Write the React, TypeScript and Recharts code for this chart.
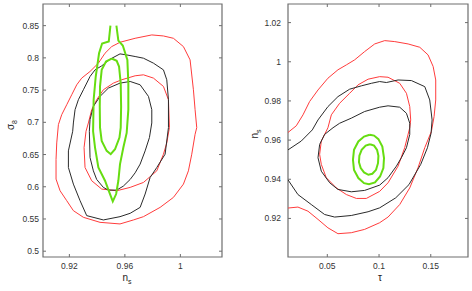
import { LineChart, Line, XAxis, YAxis, ReferenceArea } from "recharts";

type Pt = [number, number];

// ---- left panel: n_s vs sigma_8 ----
const sigmaXTicks = [0.92, 0.96, 1];
const sigmaYTicks = [0.5, 0.55, 0.6, 0.65, 0.7, 0.75, 0.8, 0.85];

const sigmaRedOuter: Pt[] = [
  [0.9109, 0.668], [0.9121, 0.6964], [0.9145, 0.7119], [0.9181, 0.7273], [0.9217, 0.7428],
  [0.9253, 0.7582], [0.9289, 0.7686], [0.9349, 0.7789], [0.9409, 0.7918], [0.9457, 0.8072],
  [0.9505, 0.8175], [0.9565, 0.8242], [0.9674, 0.8304], [0.9794, 0.8356], [0.9878, 0.834],
  [0.995, 0.8304], [1.0022, 0.8175], [1.007, 0.7969], [1.0094, 0.7505], [1.0106, 0.7196],
  [1.0118, 0.6918], [1.0106, 0.6814], [1.0082, 0.6505], [1.0058, 0.6247], [1.0022, 0.6041],
  [0.995, 0.5835], [0.9854, 0.568], [0.9734, 0.5536], [0.9662, 0.5485], [0.9565, 0.5423],
  [0.9421, 0.5448], [0.9301, 0.5526], [0.9229, 0.5629], [0.9181, 0.5784], [0.9133, 0.5938],
  [0.9104, 0.6119], [0.9104, 0.6423],
];
const sigmaRedInner: Pt[] = [
  [0.9306, 0.6608], [0.932, 0.6861], [0.9337, 0.699], [0.9361, 0.7196], [0.9397, 0.7351],
  [0.9445, 0.7505], [0.9517, 0.7608], [0.9577, 0.766], [0.9674, 0.7722], [0.9734, 0.7737],
  [0.9806, 0.7686], [0.9878, 0.7557], [0.9914, 0.7351], [0.9921, 0.6918], [0.9902, 0.668],
  [0.9878, 0.6505], [0.983, 0.6247], [0.9734, 0.6067], [0.9638, 0.599], [0.9541, 0.5938],
  [0.9433, 0.5964], [0.9361, 0.6093], [0.9313, 0.6299],
];
const sigmaBlackOuter: Pt[] = [
  [0.9224, 0.6861], [0.9229, 0.699], [0.9241, 0.7196], [0.9265, 0.7351], [0.9301, 0.7505],
  [0.9349, 0.7711], [0.9385, 0.7814], [0.9433, 0.7876], [0.9493, 0.7979], [0.9565, 0.8062],
  [0.9613, 0.8046], [0.9674, 0.8021], [0.9734, 0.7995], [0.9806, 0.7918], [0.9878, 0.7814],
  [0.9902, 0.766], [0.9914, 0.7351], [0.9914, 0.6918], [0.989, 0.6505], [0.983, 0.6299],
  [0.9782, 0.6144], [0.9746, 0.5887], [0.971, 0.568], [0.9638, 0.5588], [0.9565, 0.5536],
  [0.9445, 0.5485], [0.9325, 0.5552], [0.9277, 0.5784], [0.9229, 0.6041], [0.9193, 0.6299],
  [0.9193, 0.6557],
];
const sigmaBlackInner: Pt[] = [
  [0.9349, 0.6454], [0.9344, 0.6861], [0.9349, 0.7041], [0.9373, 0.7247], [0.9421, 0.7402],
  [0.9481, 0.7531], [0.9565, 0.7608], [0.9638, 0.7634], [0.971, 0.7582], [0.977, 0.7402],
  [0.9794, 0.7196], [0.9794, 0.699], [0.9777, 0.6763], [0.9746, 0.6557], [0.971, 0.6351],
  [0.9674, 0.6216], [0.9638, 0.6113], [0.9589, 0.601], [0.9541, 0.5948], [0.9481, 0.5948],
  [0.9445, 0.599], [0.9397, 0.6113], [0.9373, 0.6247],
];
// open at the top (cut at 0.85)
const sigmaGreenOuter: Pt[] = [
  [0.9496, 0.85], [0.9484, 0.8253], [0.9436, 0.8222], [0.9414, 0.8072], [0.939, 0.7711],
  [0.9375, 0.7351], [0.9371, 0.6861], [0.9385, 0.6608], [0.9409, 0.6299], [0.9457, 0.6093],
  [0.9493, 0.5887], [0.9513, 0.5773], [0.9537, 0.5887], [0.9553, 0.6093], [0.9565, 0.6351],
  [0.9589, 0.6608], [0.9613, 0.6835], [0.9625, 0.7196], [0.9625, 0.7608], [0.9618, 0.7969],
  [0.9585, 0.8191], [0.9553, 0.8268], [0.9539, 0.85],
];
const sigmaGreenInner: Pt[] = [
  [0.9505, 0.799], [0.9464, 0.7943], [0.9433, 0.7814], [0.9421, 0.7557], [0.9419, 0.7247],
  [0.9421, 0.6918], [0.9433, 0.6711], [0.9469, 0.6557], [0.9498, 0.6505], [0.9529, 0.6582],
  [0.9561, 0.6763], [0.957, 0.6918], [0.9573, 0.7247], [0.957, 0.7608], [0.9558, 0.7866],
  [0.9541, 0.7954],
];

// ---- right panel: tau vs n_s ----
const tauXTicks = [0.05, 0.1, 0.15];
const tauYTicks = [0.92, 0.94, 0.96, 0.98, 1, 1.02];

const tauRedOuter: Pt[] = [
  [0.012, 0.9639], [0.02, 0.9673], [0.0265, 0.9729], [0.0329, 0.9797], [0.041, 0.9856],
  [0.0506, 0.9916], [0.0603, 0.9959], [0.0684, 0.9984], [0.0765, 1.001], [0.0861, 1.0052],
  [0.0958, 1.0091], [0.1055, 1.0108], [0.1152, 1.0103], [0.1281, 1.0091], [0.1394, 1.0074],
  [0.1474, 1.0035], [0.1523, 0.9976], [0.1548, 0.9907], [0.1548, 0.9805], [0.1532, 0.972],
  [0.1506, 0.9644], [0.1442, 0.9561], [0.1377, 0.9459], [0.1297, 0.9356], [0.12, 0.9271],
  [0.1087, 0.9207], [0.1006, 0.9178], [0.0861, 0.9144], [0.0732, 0.9127], [0.0603, 0.9122],
  [0.0506, 0.9152], [0.041, 0.9195], [0.0313, 0.9237], [0.0216, 0.9258], [0.012, 0.9253],
];
const tauBlackOuter: Pt[] = [
  [0.012, 0.955], [0.0248, 0.9595], [0.0355, 0.9652], [0.041, 0.9703], [0.0506, 0.9771],
  [0.0603, 0.9822], [0.0716, 0.986], [0.0829, 0.9877], [0.0926, 0.989], [0.1006, 0.9899],
  [0.1071, 0.9894], [0.1184, 0.9907], [0.1313, 0.9904], [0.1442, 0.9873], [0.149, 0.9805],
  [0.1513, 0.9703], [0.1503, 0.9635], [0.1468, 0.9561], [0.1403, 0.9476], [0.129, 0.9373],
  [0.1161, 0.9305], [0.1006, 0.9254], [0.0894, 0.9234], [0.0732, 0.9215], [0.0571, 0.9207],
  [0.0474, 0.922], [0.0345, 0.9271], [0.0216, 0.9322], [0.012, 0.9397],
];
const tauRedInner: Pt[] = [
  [0.0426, 0.9527], [0.0442, 0.9595], [0.0506, 0.9663], [0.0539, 0.9729], [0.0619, 0.9788],
  [0.0716, 0.9839], [0.0797, 0.9882], [0.0894, 0.9911], [0.1006, 0.9924], [0.1087, 0.9921],
  [0.12, 0.989], [0.1265, 0.9839], [0.1297, 0.9771], [0.1306, 0.9703], [0.1297, 0.9663],
  [0.1248, 0.9561], [0.1184, 0.9467], [0.1087, 0.9382], [0.1006, 0.9338], [0.0877, 0.9302],
  [0.0781, 0.9302], [0.0684, 0.9322], [0.0587, 0.9356], [0.049, 0.9408], [0.0442, 0.9476],
];
const tauBlackInner: Pt[] = [
  [0.041, 0.951], [0.0426, 0.9578], [0.0474, 0.9629], [0.0555, 0.9663], [0.0619, 0.9686],
  [0.0732, 0.9712], [0.0861, 0.9746], [0.1006, 0.9768], [0.1087, 0.9775], [0.12, 0.9768],
  [0.1265, 0.9737], [0.1297, 0.9686], [0.1297, 0.9629], [0.1265, 0.9561], [0.1216, 0.951],
  [0.1168, 0.9467], [0.1087, 0.9408], [0.1006, 0.937], [0.0861, 0.9343], [0.0732, 0.9336],
  [0.0603, 0.9348], [0.0523, 0.9382], [0.0442, 0.9441],
];
const tauGreenOuter: Pt[] = [
  [0.091, 0.9627], [0.0855, 0.9618], [0.08, 0.9593], [0.0758, 0.955], [0.0748, 0.9499],
  [0.0758, 0.9448], [0.08, 0.9406], [0.0855, 0.938], [0.0903, 0.9375], [0.0961, 0.9384],
  [0.101, 0.9414], [0.1042, 0.9457], [0.1048, 0.9508], [0.1032, 0.9567], [0.0994, 0.9605],
  [0.0952, 0.9623],
];
const tauGreenInner: Pt[] = [
  [0.0913, 0.9579], [0.0871, 0.9572], [0.0832, 0.955], [0.081, 0.952], [0.0806, 0.9487],
  [0.0823, 0.9457], [0.0855, 0.9435], [0.0897, 0.9423], [0.0935, 0.9428], [0.0971, 0.9448],
  [0.099, 0.9482], [0.0994, 0.952], [0.0981, 0.955], [0.0952, 0.9572],
];

const RED = "#ff3c3c";
const BLACK = "#2a2a2a";
const GREEN = "#66dd11";
const FRAME = "#6e6e6e";
const FONT = "'Liberation Sans', Arial, sans-serif";
const TOP = 4;
const BOTTOM = 257;

const rows = (pts: Pt[], closed = true) => {
  const r = pts.map(([x, y]) => ({ x, y }));
  return closed ? [...r, r[0]] : r;
};

const fmt = (v: number) => String(+v.toFixed(4));

interface Series {
  id: string;
  pts: Pt[];
  closed: boolean;
  color: string;
  w: number;
}

const sigmaSeries: Series[] = [
  { id: "ro", pts: sigmaRedOuter, closed: true, color: RED, w: 1 },
  { id: "ri", pts: sigmaRedInner, closed: true, color: RED, w: 1 },
  { id: "bo", pts: sigmaBlackOuter, closed: true, color: BLACK, w: 1 },
  { id: "bi", pts: sigmaBlackInner, closed: true, color: BLACK, w: 1 },
  { id: "go", pts: sigmaGreenOuter, closed: false, color: GREEN, w: 2 },
  { id: "gi", pts: sigmaGreenInner, closed: true, color: GREEN, w: 2 },
];

const tauSeries: Series[] = [
  { id: "ro", pts: tauRedOuter, closed: false, color: RED, w: 1 },
  { id: "ri", pts: tauRedInner, closed: true, color: RED, w: 1 },
  { id: "bo", pts: tauBlackOuter, closed: false, color: BLACK, w: 1 },
  { id: "bi", pts: tauBlackInner, closed: true, color: BLACK, w: 1 },
  { id: "go", pts: tauGreenOuter, closed: true, color: GREEN, w: 2 },
  { id: "gi", pts: tauGreenInner, closed: true, color: GREEN, w: 2 },
];

function Title({ x, y, main, sub, rotate }: { x: number; y: number; main: string; sub?: string; rotate?: boolean }) {
  return (
    <text
      transform={`translate(${x},${y})${rotate ? " rotate(-90)" : ""}`}
      textAnchor="middle"
      fontFamily={FONT}
      fontSize={10}
      fill="#222"
    >
      {main}
      {sub && (
        <tspan dy={2.5} fontSize={7}>
          {sub}
        </tspan>
      )}
    </text>
  );
}

interface PanelProps {
  left: number;
  width: number;
  plotLeft: number;
  plotRight: number;
  xDomain: [number, number];
  yDomain: [number, number];
  xTicks: number[];
  yTicks: number[];
  yLabelGap: number;
  series: Series[];
  xTitle: { x: number; main: string; sub?: string };
  yTitle: { x: number; y: number; main: string; sub?: string };
}

function Panel(p: PanelProps) {
  // MATLAB style: labels outside, short tick marks inside on both opposite sides
  const XTick = (t: any) => (
    <g>
      <line x1={t.x} x2={t.x} y1={BOTTOM} y2={BOTTOM - 3} stroke={FRAME} />
      <line x1={t.x} x2={t.x} y1={TOP} y2={TOP + 3} stroke={FRAME} />
      <text x={t.x} y={BOTTOM + 9.5} dy="0.35em" textAnchor="middle" fontSize={8.5} fill="#333" fontFamily={FONT}>
        {fmt(t.payload.value)}
      </text>
    </g>
  );
  const YTick = (t: any) => (
    <g>
      <line x1={p.plotLeft} x2={p.plotLeft + 3} y1={t.y} y2={t.y} stroke={FRAME} />
      <line x1={p.plotRight - 3} x2={p.plotRight} y1={t.y} y2={t.y} stroke={FRAME} />
      <text x={p.plotLeft - p.yLabelGap} y={t.y} dy="0.35em" textAnchor="end" fontSize={8.5} fill="#333" fontFamily={FONT}>
        {fmt(t.payload.value)}
      </text>
    </g>
  );
  return (
    <div style={{ position: "absolute", left: p.left, top: 0 }}>
      <LineChart
        width={p.width}
        height={291}
        margin={{ top: TOP, right: p.width - p.plotRight, bottom: 0, left: 0 }}
      >
        <XAxis
          type="number"
          dataKey="x"
          domain={p.xDomain}
          ticks={p.xTicks}
          allowDataOverflow
          height={291 - BOTTOM}
          axisLine={false}
          tickLine={false}
          tick={XTick}
          label={{ content: () => <Title x={p.xTitle.x} y={281} main={p.xTitle.main} sub={p.xTitle.sub} /> }}
        />
        <YAxis
          type="number"
          domain={p.yDomain}
          ticks={p.yTicks}
          allowDataOverflow
          width={p.plotLeft}
          axisLine={false}
          tickLine={false}
          tick={YTick}
          label={{
            content: () => (
              <Title x={p.yTitle.x} y={p.yTitle.y} main={p.yTitle.main} sub={p.yTitle.sub} rotate />
            ),
          }}
        />
        {p.series.map((s) => (
          <Line
            key={s.id}
            data={rows(s.pts, s.closed)}
            dataKey="y"
            type="linear"
            stroke={s.color}
            strokeWidth={s.w}
            dot={false}
            activeDot={false}
            isAnimationActive={false}
          />
        ))}
        <ReferenceArea
          x1={p.xDomain[0]}
          x2={p.xDomain[1]}
          y1={p.yDomain[0]}
          y2={p.yDomain[1]}
          fill="none"
          stroke={FRAME}
          strokeWidth={1.2}
          ifOverflow="visible"
        />
      </LineChart>
    </div>
  );
}

export default function App() {
  return (
    <div style={{ position: "absolute", left: 0, top: 0, width: 472, height: 291, background: "#fff" }}>
      <Panel
        left={0}
        width={236}
        plotLeft={43}
        plotRight={222}
        xDomain={[0.901, 1.03]}
        yDomain={[0.491, 0.8836]}
        xTicks={sigmaXTicks}
        yTicks={sigmaYTicks}
        yLabelGap={4}
        series={sigmaSeries}
        xTitle={{ x: 127, main: "n", sub: "s" }}
        yTitle={{ x: 14, y: 125, main: "σ", sub: "8" }}
      />
      <Panel
        left={236}
        width={236}
        plotLeft={52}
        plotRight={232}
        xDomain={[0.012, 0.186]}
        yDomain={[0.9003, 1.0295]}
        xTicks={tauXTicks}
        yTicks={tauYTicks}
        yLabelGap={7}
        series={tauSeries}
        xTitle={{ x: 144, main: "τ" }}
        yTitle={{ x: 22, y: 134, main: "n", sub: "s" }}
      />
    </div>
  );
}
